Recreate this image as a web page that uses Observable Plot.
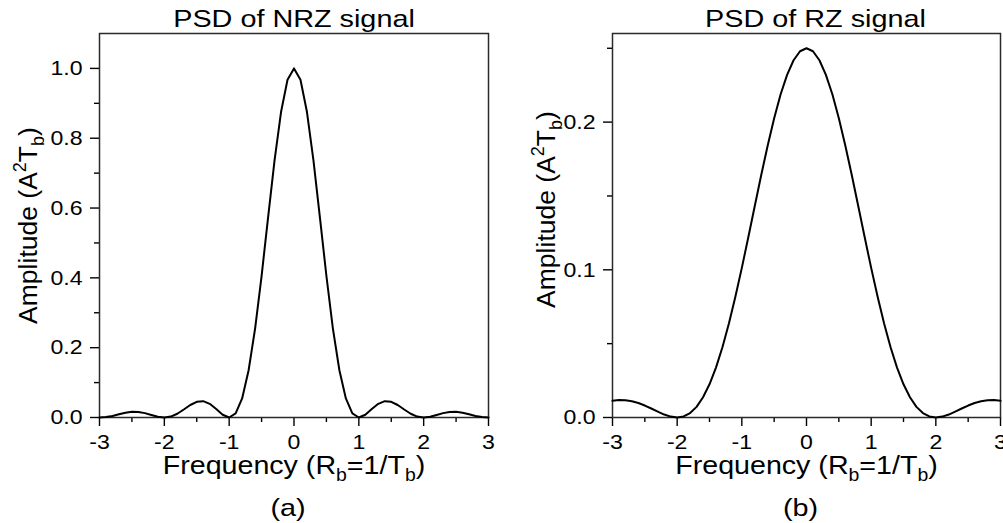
<!DOCTYPE html>
<html><head><meta charset="utf-8">
<script src="https://cdn.jsdelivr.net/npm/d3@7"></script>
<script src="https://cdn.jsdelivr.net/npm/@observablehq/plot@0.6"></script>
<style>
html,body{margin:0;padding:0;background:#fff;}
#wrap{position:relative;width:1003px;height:523px;overflow:hidden;}
#wrap svg{position:absolute;top:0;}
</style></head><body><div id="wrap"></div>
<script>
const freq = [-3.0,-2.9,-2.8,-2.7,-2.6,-2.5,-2.4,-2.3,-2.2,-2.1,-2.0,-1.9,-1.8,-1.7,-1.6,-1.5,-1.4,-1.3,-1.2,-1.1,-1.0,-0.9,-0.8,-0.7,-0.6,-0.5,-0.4,-0.3,-0.2,-0.1,0.0,0.1,0.2,0.3,0.4,0.5,0.6,0.7,0.8,0.9,1.0,1.1,1.2,1.3,1.4,1.5,1.6,1.7,1.8,1.9,2.0,2.1,2.2,2.3,2.4,2.5,2.6,2.7,2.8,2.9,3.0];
const nrzPSD = [0.0,0.0012,0.0045,0.0091,0.0136,0.0162,0.0159,0.0125,0.0072,0.0022,0.0,0.0027,0.0108,0.0230,0.0358,0.0450,0.0468,0.0392,0.0243,0.0080,0.0,0.0119,0.0547,0.1353,0.2546,0.4053,0.5728,0.7368,0.8751,0.9675,1.0,0.9675,0.8751,0.7368,0.5728,0.4053,0.2546,0.1353,0.0547,0.0119,0.0,0.0080,0.0243,0.0392,0.0468,0.0450,0.0358,0.0230,0.0108,0.0027,0.0,0.0022,0.0072,0.0125,0.0159,0.0162,0.0136,0.0091,0.0045,0.0012,0.0];
const rzPSD = [0.0113,0.0118,0.0117,0.0110,0.0098,0.0081,0.0061,0.0040,0.0020,0.0006,0.0,0.0007,0.0030,0.0072,0.0137,0.0225,0.0338,0.0476,0.0636,0.0817,0.1013,0.1220,0.1432,0.1642,0.1842,0.2026,0.2189,0.2320,0.2419,0.2480,0.2500,0.2480,0.2419,0.2320,0.2189,0.2026,0.1842,0.1642,0.1432,0.1220,0.1013,0.0817,0.0636,0.0476,0.0338,0.0225,0.0137,0.0072,0.0030,0.0007,0.0,0.0006,0.0020,0.0040,0.0061,0.0081,0.0098,0.0110,0.0117,0.0118,0.0113];
const xTicks = [-3,-2,-1,0,1,2,3];
const xMinor = [-2.5,-1.5,-0.5,0.5,1.5,2.5];
const nrzYTicks = [0,0.2,0.4,0.6,0.8,1.0];
const nrzYMinor = [0.1,0.3,0.5,0.7,0.9];
const rzYTicks = [0,0.1,0.2];
const rzYMinor = [0.05,0.15,0.25];
const titles = ["PSD of NRZ signal","PSD of RZ signal"];
const tags = ["(a)","(b)"];
const xTitleParts = [["Frequency (R",""],["b","sub"],["=1/T",""],["b","sub"],[")",""]];
const yTitleParts = [["Amplitude (A",""],["2","sup"],["T",""],["b","sub"],[")",""]];

const FONT = '"Liberation Sans", Arial, Helvetica, sans-serif';
const NS = "http://www.w3.org/2000/svg";

function rich(el, parts, F) {
  el.textContent = "";
  let shift = 0;
  for (const [s, kind] of parts) {
    const ts = document.createElementNS(NS, "tspan");
    const target = kind === "sub" ? 0.28 * F : kind === "sup" ? -0.38 * F : 0;
    if (target - shift !== 0) ts.setAttribute("dy", (target - shift).toFixed(2));
    if (kind) ts.setAttribute("font-size", (0.68 * F).toFixed(1));
    ts.textContent = s;
    el.appendChild(ts);
    shift = target;
  }
}
function stretchX(el, s) {
  const x = parseFloat(el.getAttribute("x")) || 0;
  const t = el.getAttribute("transform") || "";
  el.setAttribute("transform", `${t} translate(${x},0) scale(${s},1) translate(${-x},0)`);
}

function panel(o) {
  const rows = freq.map((f, i) => ({f, p: o.values[i]}));
  const svg = Plot.plot({
    width: o.width, height: 523,
    marginLeft: o.ml, marginRight: o.mr, marginTop: 33, marginBottom: 106,
    style: {fontFamily: FONT, color: "#000", background: "transparent"},
    x: {domain: [-3, 3]},
    y: {domain: o.yDomain},
    marks: [
      Plot.axisX(xMinor, {tickSize: 5, text: null, label: null, strokeWidth: 1.4}),
      Plot.axisX(xTicks, {tickSize: 9, tickPadding: 8, tickFormat: d => String(d), fontSize: 21, label: null, strokeWidth: 1.4}),
      Plot.axisY(o.yMinor, {tickSize: 5, text: null, label: null, strokeWidth: 1.4}),
      Plot.axisY(o.yTicks, {tickSize: 9, tickPadding: 8, tickFormat: d => d.toFixed(1), fontSize: 21, label: null, strokeWidth: 1.4}),
      Plot.frame({stroke: "#2a2a2a", strokeWidth: 1.5}),
      Plot.line(rows, {x: "f", y: "p", stroke: "#000", strokeWidth: 2}),
      Plot.text([o.title], {text: d => d, frameAnchor: "top", lineAnchor: "bottom", dx: o.titleDx, dy: -7, fontSize: 24}),
      Plot.text(["XTITLE"], {text: d => d, frameAnchor: "bottom", lineAnchor: "bottom", dy: 56, fontSize: 26.5}),
      Plot.text(["YTITLE"], {text: d => d, frameAnchor: "left", textAnchor: "middle", lineAnchor: "bottom", rotate: -90, dx: o.ytdx, dy: o.ytdy, fontSize: 26.5}),
      Plot.text([o.tag], {text: d => d, frameAnchor: "bottom", lineAnchor: "bottom", dx: -6, dy: 98, fontSize: 24})
    ]
  });
  svg.style.left = o.left + "px";
  svg.querySelectorAll("text").forEach(t => {
    const g = t.closest("g");
    const lab = g ? (g.getAttribute("aria-label") || "") : "";
    if (t.textContent === "XTITLE") { rich(t, xTitleParts, 26.5); stretchX(t, 1.08); }
    else if (t.textContent === "YTITLE") rich(t, yTitleParts, 26.5);
    else if (t.textContent === o.title || t.textContent === o.tag) stretchX(t, 1.2);
    else if (lab.includes("tick label")) stretchX(t, 1.1);
  });
  return svg;
}

const wrap = document.getElementById("wrap");
wrap.appendChild(panel({values: nrzPSD, yDomain: [0, 1.1], yTicks: nrzYTicks, yMinor: nrzYMinor, width: 505, ml: 99, mr: 17, left: 0, title: titles[0], tag: tags[0], titleDx: 0, ytdx: -63, ytdy: 0}));
wrap.appendChild(panel({values: rzPSD, yDomain: [0, 0.26], yTicks: rzYTicks, yMinor: rzYMinor, width: 498, ml: 107, mr: 3, left: 505, title: titles[1], tag: tags[1], titleDx: 9, ytdx: -58, ytdy: -16}));
</script></body></html>
